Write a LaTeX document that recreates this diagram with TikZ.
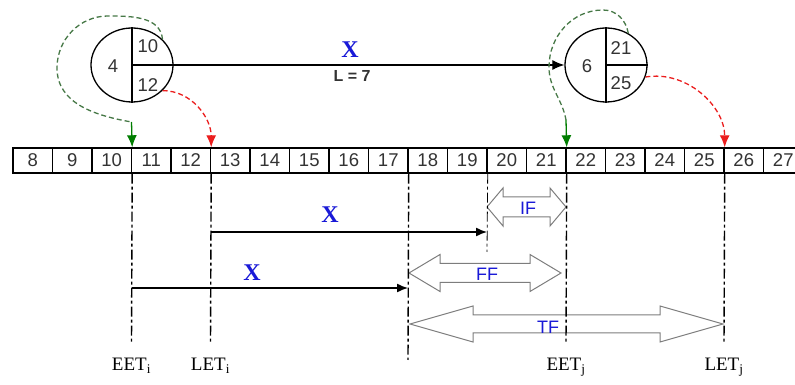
\documentclass[tikz,border=0pt]{standalone}
\usepackage{fontspec}
\setmainfont{Liberation Serif}
\newfontfamily\arial{Liberation Sans}
\usetikzlibrary{positioning,shapes.geometric,arrows.meta}
\definecolor{xblue}{RGB}{25,25,215}
\definecolor{tipgreen}{RGB}{0,125,0}
\definecolor{dashgreen}{RGB}{70,120,70}
\definecolor{dashred}{RGB}{235,30,30}
\definecolor{slackgray}{RGB}{125,125,125}
\newcommand{\hollowarrow}[6]{% x1, x2, y, head length, half shaft, half head
  \filldraw[slack] (#1,#3) -- ({#1+#4},{#3+#6}) -- ({#1+#4},{#3+#5}) -- ({#2-#4},{#3+#5}) -- ({#2-#4},{#3+#6})
    -- (#2,#3) -- ({#2-#4},{#3-#6}) -- ({#2-#4},{#3-#5}) -- ({#1+#4},{#3-#5}) -- ({#1+#4},{#3-#6}) -- cycle;}

\begin{document}
\begin{tikzpicture}[x=1pt, y=1pt, every node/.style={font=\arial\fontsize{18.5}{18.5}\selectfont, text=black!80}]
\tikzstyle{event}=[draw, ellipse, line width=1.3pt, minimum width=82pt, minimum height=74pt, inner sep=0pt]
\tikzstyle{cell}=[draw, line width=1.4pt, minimum width=39.5pt, minimum height=25pt, inner sep=0pt]
\tikzstyle{guide}=[line width=1.4pt, dash pattern=on 10pt off 3pt on 3pt off 3pt]
\tikzstyle{early}=[dashgreen, line width=1.3pt, dash pattern=on 5pt off 3pt]
\tikzstyle{late}=[dashred, line width=1.3pt, dash pattern=on 5pt off 3pt]
\tikzstyle{slack}=[draw=slackgray, fill=white, line width=1pt]
\tikzstyle{tipped}=[-{Latex[length=12pt,width=10pt]}]
\tikzstyle{xlbl}=[font=\rmfamily\bfseries\fontsize{24}{24}\selectfont, text=xblue]
\tikzstyle{flbl}=[font=\arial\fontsize{18}{18}\selectfont, text=xblue]
\tikzstyle{tlbl}=[font=\rmfamily\fontsize{19}{19}\selectfont, text=black, anchor=base]
\useasboundingbox (0,0) rectangle (795,385);

% time scale
\foreach \n in {8,...,27}
  \node[cell] (c\n) at ({32.75+(\n-8)*39.5},224.5) {\n};

% activity i -> j
\node[event] (ei) at (132,320) {};
\node[event] (ej) at (606,320) {};
\draw[line width=1.3pt] (ei.north) -- (ei.south) (ei.center) -- (ei.east);
\draw[line width=1.3pt] (ej.north) -- (ej.south) (ej.center) -- (ej.east);
\node (ni) at (113,319) {4};
\node (eeti) at (148,339) {10};
\node (leti) at (148,300) {12};
\node (nj) at (587,319) {6};
\node (eetj) at (621,337) {21};
\node (letj) at (621,302) {25};
\draw[line width=1.2pt, tipped] (ei.east) -- (ej.west);
\node[xlbl] (x0) at (350,335) {X};
\node[font=\arial\bfseries\fontsize{16}{16}\selectfont] (dur) at (352,309) {L = 7};

% times onto the scale
\coordinate (gi) at (131.5,263);
\coordinate (gj) at (566,265);
\draw[early] (ei.40) to[out=95,in=0] (108,369) to[out=180,in=90] (57,317) to[out=270,in=170] (gi);
\draw[tipgreen, line width=1.3pt, tipped] (gi) -- (c10.north east);
\draw[late, tipped] (ei.-40) to[out=0,in=90] (c12.north east);
\draw[early] (ej.55) to[out=100,in=0] (603,375) to[out=180,in=90] (549,318) to[out=270,in=100] (gj);
\draw[tipgreen, line width=1.3pt, tipped] (gj) -- (c21.north east);
\draw[late, tipped] (ej.-17) to[out=10,in=90] (c25.north east);

% floats
\hollowarrow{487}{566}{178}{16}{10}{19}
\hollowarrow{409}{561}{112}{31}{9.5}{18.5}
\hollowarrow{410}{723}{61}{63}{9}{18}
\node[flbl] (iff) at (528,177) {IF};
\node[flbl] (fff) at (487,111) {FF};
\node[flbl] (tff) at (548,58) {TF};

% guides
\coordinate (ge1) at (131.5,42);
\coordinate (ge2) at (210.5,42);
\coordinate (ge3) at (408,25);
\coordinate (ge4) at (487,133);
\coordinate (ge5) at (566,42);
\coordinate (ge6) at (724,42);
\draw[guide] (c10.south east) -- (ge1);
\draw[guide] (c12.south east) -- (ge2);
\draw[guide] (c17.south east) -- (ge3);
\draw[guide, line width=0.8pt] (c19.south east) -- (ge4);
\draw[guide] (c21.south east) -- (ge5);
\draw[guide] (c25.south east) -- (ge6);

% activity bars
\coordinate (a1) at (210.5,153);
\coordinate (b1) at (487,153);
\coordinate (a2) at (131.5,97);
\coordinate (b2) at (408,97);
\draw[line width=1.4pt, -{Latex[length=11pt,width=9pt]}] (a1) -- (b1);
\draw[line width=1.4pt, -{Latex[length=11pt,width=9pt]}] (a2) -- (b2);
\node[xlbl] (x1) at (330,170) {X};
\node[xlbl] (x2) at (252,112) {X};

\node[tlbl] (teeti) at (131.5,14) {EET\textsubscript{i}};
\node[tlbl] (tleti) at (210.5,14) {LET\textsubscript{i}};
\node[tlbl] (teetj) at (566,14) {EET\textsubscript{j}};
\node[tlbl] (tletj) at (724,14) {LET\textsubscript{j}};
\end{tikzpicture}
\end{document}
